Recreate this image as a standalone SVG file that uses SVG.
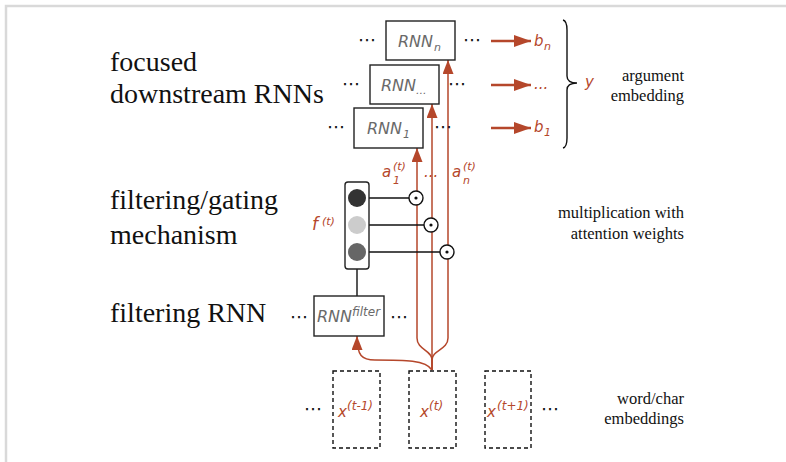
<svg xmlns="http://www.w3.org/2000/svg" width="786" height="462" viewBox="0 0 786 462">
<defs>
<style>
.lbl{font-family:"Liberation Serif","Times New Roman",serif;fill:#111}
.big{font-size:28px}
.note{font-size:16.5px}
.it{font-family:"DejaVu Sans","Open Sans",sans-serif;font-style:italic}
.rnn{fill:#6a6a6a;font-size:16px}
.rsm{fill:#6a6a6a;font-size:11px}
.red{fill:#b5472b;font-size:15px}
.redsm{fill:#b5472b;font-size:11px}
.redx{fill:#b5472b;font-size:12px}
.dots{font-family:"DejaVu Sans",sans-serif;font-size:18px;fill:#111}
.box{fill:#fff;stroke:#222;stroke-width:1.4}
.dash{fill:none;stroke:#111;stroke-width:1.4;stroke-dasharray:4,3}
.rl{fill:none;stroke:#b5472b;stroke-width:1.5}
.rh{fill:none;stroke:#b5472b;stroke-width:2.4}
.bl{fill:none;stroke:#111;stroke-width:1.4}
.odot{fill:#fff;stroke:#111;stroke-width:1.4}
</style>
<marker id="av" markerWidth="14" markerHeight="11" refX="14" refY="5.5" orient="auto" markerUnits="userSpaceOnUse">
<path d="M0,0 L14,5.5 L0,11 z" fill="#b5472b"/>
</marker>
<marker id="ah" markerWidth="17" markerHeight="12" refX="17" refY="6" orient="auto" markerUnits="userSpaceOnUse">
<path d="M0,0 L17,6 L0,12 z" fill="#b5472b"/>
</marker>
</defs>
<rect width="786" height="462" fill="#fff"/>
<path d="M6,462 L6,6 L786,6" fill="none" stroke="#d9d9d9" stroke-width="2.5"/>

<g id="labels-left">
<text class="lbl big" x="110" y="71">focused</text>
<text class="lbl big" x="110" y="103">downstream RNNs</text>
<text class="lbl big" x="110" y="209">filtering/gating</text>
<text class="lbl big" x="110" y="244">mechanism</text>
<text class="lbl big" x="110" y="322">filtering RNN</text>
</g>
<g id="labels-right">
<text class="lbl note" x="684" y="81" text-anchor="end">argument</text>
<text class="lbl note" x="684" y="101" text-anchor="end">embedding</text>
<text class="lbl note" x="684" y="218" text-anchor="end">multiplication with</text>
<text class="lbl note" x="684" y="239" text-anchor="end">attention weights</text>
<text class="lbl note" x="684" y="404" text-anchor="end">word/char</text>
<text class="lbl note" x="684" y="424" text-anchor="end">embeddings</text>
</g>

<g id="connectors">
<path class="rl" d="M432,370 L432,360 C432,350 417,350 417,338 L417,148" marker-end="url(#av)"/>
<path class="rl" d="M432,370 L432,104" marker-end="url(#av)"/>
<path class="rl" d="M432,370 L432,360 C432,350 448,350 448,338 L448,60" marker-end="url(#av)"/>
<path class="rl" d="M432,370 C426,360 405,360 375,360 C362,360 357,356 357,336" marker-end="url(#av)"/>
<path class="bl" d="M357,269 L357,296"/>
<path class="bl" d="M366,198 L409,198"/>
<path class="bl" d="M366,225 L424,225"/>
<path class="bl" d="M366,252 L440,252"/>
<path class="rh" d="M491,41 L531,41" marker-end="url(#ah)"/>
<path class="rh" d="M491,85 L531,85" marker-end="url(#ah)"/>
<path class="rh" d="M491,128 L531,128" marker-end="url(#ah)"/>
<path class="bl" d="M563,20 Q567,21 567,30 L567,76 Q567,83 577,83 Q567,83 567,90 L567,138 Q567,147 563,148"/>
</g>

<g id="rnn-n">
<rect class="box" x="386" y="21" width="69" height="39"/>
<text class="it rnn" x="398" y="47">RNN</text><text class="it rsm" x="434" y="51">n</text>
<text class="dots" x="367" y="46" text-anchor="middle">⋯</text>
<text class="dots" x="472" y="46" text-anchor="middle">⋯</text>
</g>
<g id="rnn-mid">
<rect class="box" x="370" y="65" width="69" height="39"/>
<text class="it rnn" x="381" y="91">RNN</text><text class="it rsm" x="416" y="94">...</text>
<text class="dots" x="351" y="90" text-anchor="middle">⋯</text>
<text class="dots" x="457" y="90" text-anchor="middle">⋯</text>
</g>
<g id="rnn-1">
<rect class="box" x="354" y="108" width="69" height="40"/>
<text class="it rnn" x="367" y="134">RNN</text><text class="it rsm" x="403" y="138">1</text>
<text class="dots" x="336" y="133" text-anchor="middle">⋯</text>
<text class="dots" x="443" y="133" text-anchor="middle">⋯</text>
</g>

<g id="outputs">
<text class="it red" x="534" y="46">b</text><text class="it redsm" x="544" y="50">n</text>
<text class="it red" x="534" y="89">...</text>
<text class="it red" x="534" y="132">b</text><text class="it redsm" x="544" y="136">1</text>
<text class="it red" x="585" y="87">y</text>
</g>

<g id="attention-labels">
<text class="it red" x="382" y="177">a</text><text class="it redsm" x="393" y="170">(t)</text><text class="it redsm" x="393" y="184">1</text>
<text class="it red" x="424" y="177">...</text>
<text class="it red" x="452" y="177">a</text><text class="it redsm" x="463" y="170">(t)</text><text class="it redsm" x="463" y="184">n</text>
</g>

<g id="gate">
<rect class="box" x="345" y="182" width="24" height="87" rx="3"/>
<circle cx="357" cy="198" r="9" fill="#333"/>
<circle cx="357" cy="225" r="9" fill="#ccc"/>
<circle cx="357" cy="252" r="9" fill="#666"/>
<text class="it red" x="312" y="230" style="font-size:17px">f</text><text class="it redsm" x="322" y="225">(t)</text>
</g>

<g id="mult">
<circle class="odot" cx="416" cy="198" r="7"/><circle cx="416" cy="198" r="1.6" fill="#111"/>
<circle class="odot" cx="431" cy="225" r="7"/><circle cx="431" cy="225" r="1.6" fill="#111"/>
<circle class="odot" cx="447" cy="252" r="7"/><circle cx="447" cy="252" r="1.6" fill="#111"/>
</g>

<g id="rnn-filter">
<rect class="box" x="314" y="296" width="70" height="40"/>
<text class="it rnn" x="317" y="322">RNN</text><text class="it rsm" x="352" y="316" style="font-size:12px">filter</text>
<text class="dots" x="299" y="323" text-anchor="middle">⋯</text>
<text class="dots" x="399" y="323" text-anchor="middle">⋯</text>
</g>

<g id="x-prev">
<rect class="dash" x="333" y="371" width="47" height="77"/>
<text class="it red" x="338" y="417">x</text><text class="it redx" x="347" y="410">(t-1)</text>
<text class="dots" x="313" y="415" text-anchor="middle">⋯</text>
</g>
<g id="x-cur">
<rect class="dash" x="409" y="371" width="47" height="77"/>
<text class="it red" x="420" y="417">x</text><text class="it redx" x="429" y="410">(t)</text>
</g>
<g id="x-next">
<rect class="dash" x="485" y="371" width="46" height="77"/>
<text class="it red" x="487" y="417">x</text><text class="it redx" x="497" y="410">(t+1)</text>
<text class="dots" x="550" y="415" text-anchor="middle">⋯</text>
</g>
</svg>
